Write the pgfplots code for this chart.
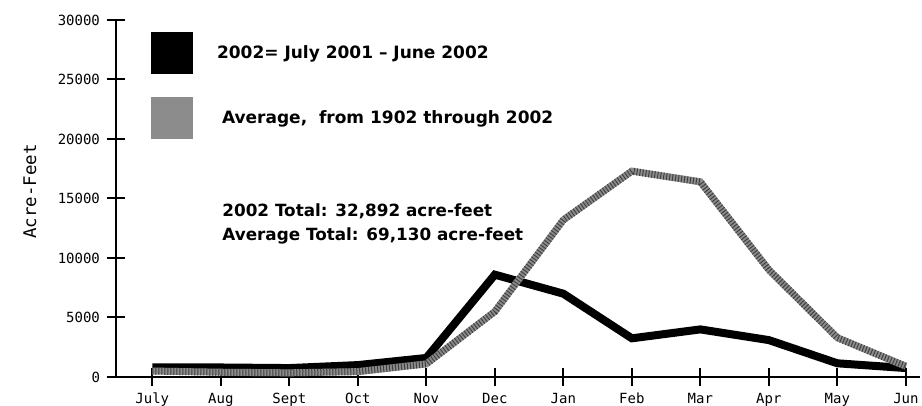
\documentclass[border=0pt]{standalone}
\usepackage{fontspec}
\setmainfont{DejaVu Sans}
\setmonofont{DejaVu Sans Mono}
\usepackage{pgfplots}
\pgfplotsset{compat=1.18}
\begin{document}
\begin{tikzpicture}
\begin{axis}[
  scale only axis, width=401.8pt, height=178.5pt,
  xmin=-0.53, xmax=11.2, ymin=0, ymax=30000,
  axis x line=bottom, axis y line=left,
  axis line style={-, line width=1.3pt},
  xtick={0,...,11},
  xticklabels={July,Aug,Sept,Oct,Nov,Dec,Jan,Feb,Mar,Apr,May,Jun},
  ytick={0,5000,...,30000},
  tick align=center, xtick align=center, ytick align=center,
  major tick length=9pt,
  tick style={line width=1pt, black},
  /pgf/number format/assume math mode=true,
  /pgf/number format/set thousands separator={},
  scaled y ticks=false,
  ticklabel style={font=\ttfamily\fontsize{7}{8}\selectfont},
  ylabel={Acre-Feet},
  ylabel style={font=\ttfamily\fontsize{8.7}{10}\selectfont, at={(axis description cs:-0.107,0.52)}, anchor=center},
  legend style={at={(axis description cs:0.0436,0.966)}, anchor=north west,
    draw=none, fill=none, inner sep=0pt, outer sep=0pt,
    row sep=11.5pt, column sep=12pt,
    font=\bfseries\fontsize{8.5}{10}\selectfont,
    nodes={inner sep=0pt}},
  legend cell align=left,
  legend image code/.code={\fill[#1, draw=none] (0pt,-10.5pt) rectangle (21pt,10.5pt);},
]
\coordinate (O) at (axis description cs:0,0);
\addplot[black, line width=4pt] coordinates {
  (0,800) (1,800) (2,750) (3,1000) (4,1600) (5,8600)
  (6,7000) (7,3250) (8,4000) (9,3100) (10,1150) (11,750)};
\addlegendentry{2002= July 2001 – June 2002}
\addplot[black!45, line width=3.5pt] coordinates {
  (0,500) (1,400) (2,350) (3,450) (4,1100) (5,5500)
  (6,13200) (7,17300) (8,16400) (9,9000) (10,3300) (11,900)};
\addlegendentry{\hspace{2.5pt}Average,\ \ from 1902 through 2002}
\addplot[black!75, line width=3.5pt, dash pattern=on 0.5pt off 1pt, forget plot] coordinates {
  (0,500) (1,400) (2,350) (3,450) (4,1100) (5,5500)
  (6,13200) (7,17300) (8,16400) (9,9000) (10,3300) (11,900)};
\node[anchor=west, align=left, inner sep=0pt, font=\bfseries\fontsize{8.4}{12}\selectfont]
  at (axis description cs:0.1319,0.4286) {2002 Total: 32,892 acre-feet\\Average Total: 69,130 acre-feet};
\end{axis}
\pgfresetboundingbox
\path ([shift={(-58pt,-14.5pt)}]O) rectangle ([shift={(403pt,188.5pt)}]O);
\end{tikzpicture}
\end{document}
